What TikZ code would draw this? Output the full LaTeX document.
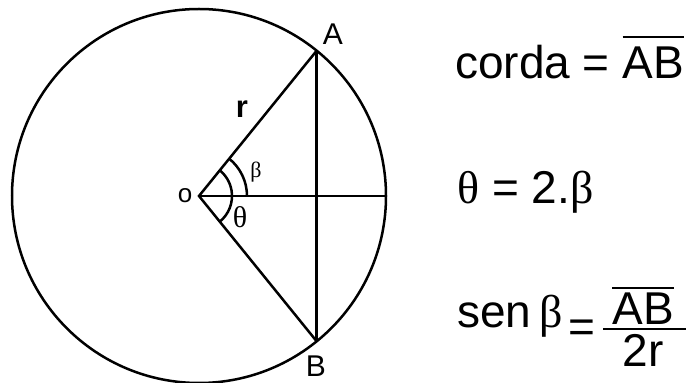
\documentclass[tikz,border=0pt]{standalone}
\usepackage{fontspec}
\setmainfont{Liberation Sans}
\newfontfamily\grk{Liberation Serif}
\usetikzlibrary{positioning}

\tikzset{
  lbl/.style={inner sep=0pt, font=\fontsize{30}{32}\selectfont},
  eqn/.style={inner sep=0pt, anchor=base west, font=\fontsize{46}{50}\selectfont},
  geo/.style={line width=2.5pt},
}
% bar over a word
\newcommand{\ovl}[2][5pt]{\vbox{\hrule height 2.6pt\kern #1\hbox{#2}}}

\begin{document}
\begin{tikzpicture}[x=1pt, y=1pt]
    \useasboundingbox (0,0) rectangle (686,383);

    % circle and chord
    \coordinate (O) at (199,187);
    \coordinate (A) at ([shift={(51:187)}]O);
    \coordinate (B) at ([shift={(-51:187)}]O);
    \coordinate (E) at ([shift={(0:187)}]O);
    \draw[geo] (O) circle[radius=187];
    \draw[geo] (A) -- (O) -- (B);
    \draw[geo] (O) -- (E);
    \draw[geo] (A) -- (B);
    \draw[geo] ([shift={(-51:33)}]O) arc[start angle=-51, end angle=51, radius=33];
    \draw[geo] ([shift={(0:48)}]O) arc[start angle=0, end angle=51, radius=48];

    \node[lbl] (lA) at (333,349) {A};
    \node[lbl] (lB) at (316,17) {B};
    \node[lbl, font=\fontsize{26}{28}\selectfont] (lO) at (185,187) {o};
    \node[lbl, font=\fontsize{31}{33}\bfseries] (lr) at (242,274) {r};
    \node[lbl, font=\fontsize{22}{24}\grk] (lbeta) at (256,211) {β};
    \node[lbl, font=\fontsize{30}{32}\grk] (ltheta) at (240,166) {θ};

    % formulas
    \node[eqn] (corda) at (455,304) {corda = \ovl[9pt]{AB}};
    \node[eqn] (dobro) at (457,179) {{\grk θ} = 2.{\grk β}};
    \node[eqn] (sen) at (457,55) {sen\hspace{8pt}{\grk β}};
    \node[eqn, anchor=base west] (igual) at (568,40) {=};
    \node[eqn, anchor=base] (num) at (643,58) {\ovl[4pt]{AB}};
    \node[eqn, anchor=base] (den) at (643,16) {2r};
    \coordinate (barL) at (603,54);
    \coordinate (barR) at (686,54);
    \draw[line width=2.6pt] (barL) -- (barR);
\end{tikzpicture}
\end{document}
